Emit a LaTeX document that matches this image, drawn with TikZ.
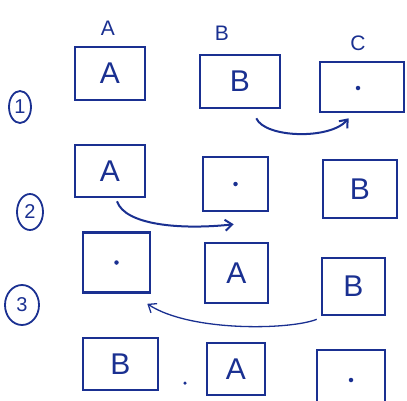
\documentclass[tikz,border=0pt]{standalone}
\usepackage{fontspec}
\setmainfont{Liberation Sans}
\usetikzlibrary{calc,shapes.geometric,arrows.meta}
\definecolor{ink}{RGB}{26,48,145}
\tikzset{
  box/.style={draw=ink, line width=2.6pt, inner sep=0pt, text=ink, font=\fontsize{30}{30}\selectfont},
  col/.style={text=ink, font=\fontsize{21}{21}\selectfont, inner sep=0pt},
  num/.style={draw=ink, ellipse, line width=1.8pt, inner sep=0pt, text=ink, font=\fontsize{20}{20}\selectfont},
  move/.style={draw=ink, line width=2pt, -{Straight Barb[length=7pt,width=11pt]}},
  dotmark/.style={fill=ink, circle, inner sep=0pt, minimum size=4.5pt}
}
\begin{document}
\begin{tikzpicture}[x=1pt,y=-1pt]
\useasboundingbox[fill=white] (0,0) rectangle (407,400);
% column labels
\node[col] (la) at (108,28) {A};
\node[col] (lb) at (222,33) {B};
\node[col] (lc) at (358,43) {C};
% row numbers
\node[num, minimum width=22pt, minimum height=32pt] (n1) at (20,107) {1};
\node[num, minimum width=26pt, minimum height=36pt] (n2) at (30,212) {2};
\node[num, minimum width=34pt, minimum height=40pt] (n3) at (22,305) {3};
% row 1
\node[box, minimum width=70pt, minimum height=53pt] (A1) at (110,73.5) {A};
\node[box, minimum width=80pt, minimum height=53pt] (B1) at (240,81.5) {B};
\node[box, minimum width=84pt, minimum height=50pt] (C1) at (362,87) {};
\node[dotmark] (c1d) at ($(C1.center)+(-4,1)$) {};
% row 2
\node[box, minimum width=70pt, minimum height=52pt] (A2) at (110,171) {A};
\node[box, minimum width=65pt, minimum height=54pt] (D2) at (235.5,184) {};
\node[dotmark] (d2d) at (D2.center) {};
\node[box, minimum width=74pt, minimum height=58pt] (B2) at (360,189) {B};
% row 3
\node[box, minimum width=67pt, minimum height=60pt] (D3) at (116.5,262.5) {};
\node[dotmark] (d3d) at (D3.center) {};
\node[box, minimum width=63pt, minimum height=60pt] (A3) at (236.5,273) {A};
\node[box, minimum width=63pt, minimum height=57pt] (B3) at (353.5,286.5) {B};
% row 4
\node[box, minimum width=75pt, minimum height=52pt] (B4) at (120.5,364) {B};
\node[dotmark, minimum size=3.5pt] (sep) at (185,383) {};
\node[box, minimum width=58pt, minimum height=52pt] (A4) at (236,369) {A};
\node[box, minimum width=68pt, minimum height=60pt] (D4) at (351,380) {};
\node[dotmark] (d4d) at (D4.center) {};
% moves
\draw[move] ($(B1.south east)+(-25,9)$) .. controls (265,138) and (330,140) .. ($(C1.south west)+(30,5)$);
\draw[move] ($(A2.south)+(7,3)$) .. controls (125,225) and (180,230) .. ($(D2.south west)+(32,12)$);
\draw[move, line width=1.3pt] ($(B3.south west)+(-4,3)$) .. controls (290,330) and (190,332) .. ($(D3.south east)+(-4,10)$);
\end{tikzpicture}
\end{document}
